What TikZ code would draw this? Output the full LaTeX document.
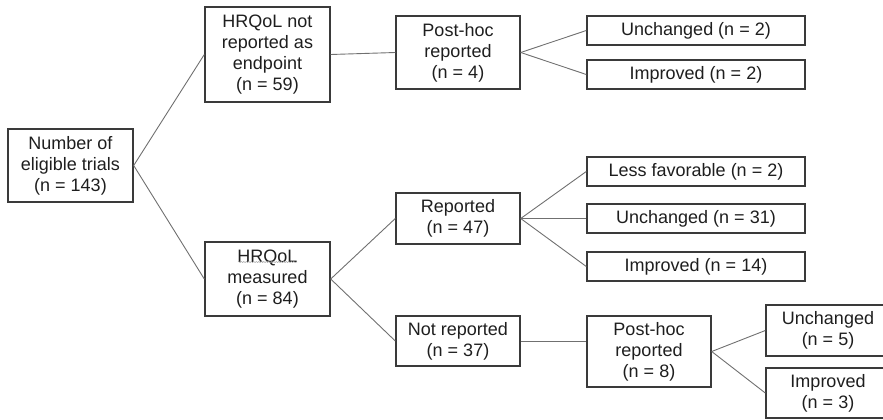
\documentclass[tikz,border=0pt]{standalone}
\usepackage{fontspec}
\setmainfont{Liberation Sans}
\usetikzlibrary{decorations.pathmorphing}
\definecolor{boxline}{HTML}{3A3A3A}
\definecolor{conn}{HTML}{707070}
\definecolor{txt}{HTML}{1E1E1E}
\begin{document}
\begin{tikzpicture}[x=1pt,y=-1pt,
  box/.style={draw=boxline, line width=1.4pt, inner sep=0pt, align=center,
    text=txt, font=\fontsize{18}{21}\selectfont, minimum width=124pt},
  wide/.style={box, minimum width=218pt, minimum height=29pt},
  link/.style={draw=conn, line width=0.9pt}]
\useasboundingbox (0,0) rectangle (883,420);
\clip (0,0) rectangle (883,420);
\node[box, minimum width=125pt, minimum height=73pt] (root) at (70.5,165.5) {Number of\\eligible trials\\(n = 143)};
\node[box, minimum width=125pt, minimum height=95pt] (nr) at (267.5,54.5) {HRQoL not\\reported as\\endpoint\\(n = 59)};
\node[box, minimum width=125pt, minimum height=74pt] (meas) at (267.5,279) {HRQoL\\measured\\(n = 84)};
\node[box, minimum height=73pt] (ph1) at (458,52.5) {Post-hoc\\reported\\(n = 4)};
\node[box, minimum height=51pt] (rep) at (458,218.5) {Reported\\(n = 47)};
\node[box, minimum height=50pt] (notrep) at (458,341) {Not reported\\(n = 37)};
\node[wide] (u2) at (696,30.5) {Unchanged (n = 2)};
\node[wide] (i2) at (696,74.5) {Improved (n = 2)};
\node[wide] (lf) at (696,171.5) {Less favorable (n = 2)};
\node[wide] (u31) at (696,218.5) {Unchanged (n = 31)};
\node[wide] (i14) at (696,266.5) {Improved (n = 14)};
\node[box, minimum height=71pt] (ph2) at (649,351.5) {Post-hoc\\reported\\(n = 8)};
\node[box, minimum height=51pt] (u5) at (828,330.5) {Unchanged\\(n = 5)};
\node[box, minimum height=50pt] (i3) at (828,393) {Improved\\(n = 3)};
\draw[link] (root.east) -- (nr.west);
\draw[link] (root.east) -- (meas.west);
\draw[link] (nr.east) -- (ph1.west);
\draw[link] (ph1.east) -- (u2.west);
\draw[link] (ph1.east) -- (i2.west);
\draw[link] (meas.east) -- (rep.west);
\draw[link] (meas.east) -- (notrep.west);
\draw[link] (rep.east) -- (lf.west);
\draw[link] (rep.east) -- (u31.west);
\draw[link] (rep.east) -- (i14.west);
\draw[link] (notrep.east) -- (notrep.east -| ph2.west);
\draw[link] (ph2.east) -- (u5.west);
\draw[link] (ph2.east) -- (i3.west);
\coordinate (wl) at (238,262);
\coordinate (wr) at (297,262);
\draw[gray!70, line width=0.5pt, decorate, decoration={snake, amplitude=0.6pt, segment length=2.5pt}] (wl) -- (wr);
\end{tikzpicture}
\end{document}
